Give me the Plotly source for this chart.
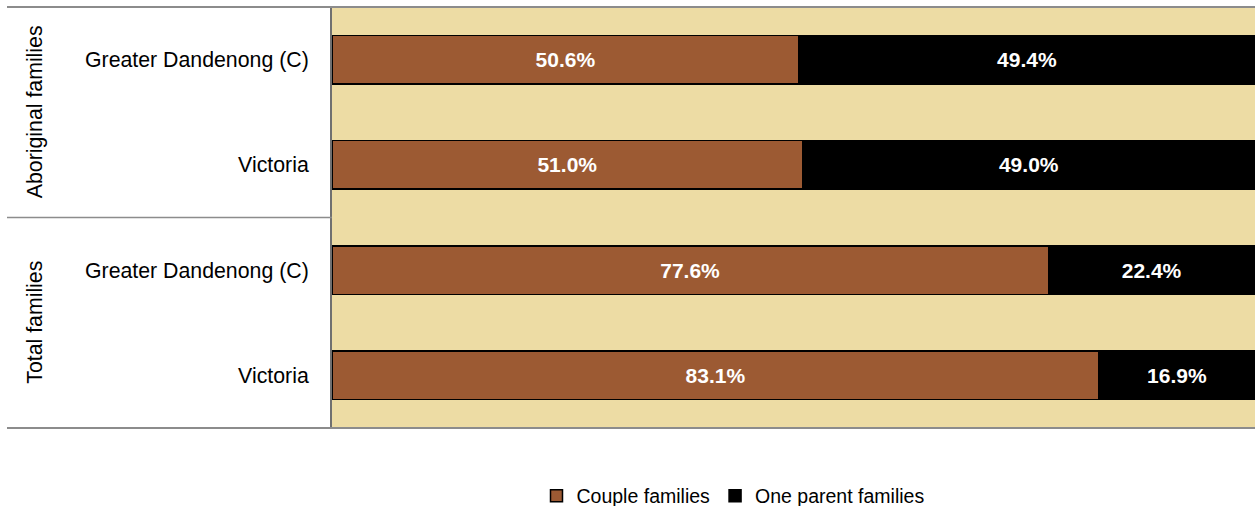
import plotly.graph_objects as go

groups = ["Aboriginal families", "Aboriginal families", "Total families", "Total families"]
areas = ["Greater Dandenong (C)", "Victoria", "Greater Dandenong (C)", "Victoria"]
couple = [50.6, 51.0, 77.6, 83.1]
one_parent = [49.4, 49.0, 22.4, 16.9]
group_names = ["Aboriginal families", "Total families"]

W, H = 1255, 506
L, R, T, B = 332, 0, 7, 78
pw = W - L - R
ph = H - T - B

def px_to_paper_x(px):
    return (px - L) / pw

pos = list(range(len(areas)))
FONT = "Liberation Sans, Arial, sans-serif"

fig = go.Figure()
fig.add_trace(go.Bar(
    y=pos, x=couple, orientation="h", name="Couple families",
    marker=dict(color="#9C5A33", line=dict(color="#000000", width=1.5)),
    text=[f"{v:.1f}%" for v in couple], textposition="inside",
    insidetextanchor="middle",
    textfont=dict(color="white", size=21, family=FONT, weight="bold"),
    hoverinfo="skip",
))
fig.add_trace(go.Bar(
    y=pos, x=one_parent, orientation="h", name="One parent families",
    marker=dict(color="#000000", line=dict(color="#000000", width=1.5)),
    text=[f"{v:.1f}%" for v in one_parent], textposition="inside",
    insidetextanchor="middle",
    textfont=dict(color="white", size=21, family=FONT, weight="bold"),
    hoverinfo="skip",
))

shapes = []
line_col = "#8c8c8c"
shapes.append(dict(type="line", xref="paper", yref="paper",
                   x0=px_to_paper_x(7), x1=1, y0=1, y1=1,
                   line=dict(color=line_col, width=2)))
shapes.append(dict(type="line", xref="paper", yref="paper",
                   x0=px_to_paper_x(7), x1=1, y0=0, y1=0,
                   line=dict(color=line_col, width=2)))
shapes.append(dict(type="line", xref="paper", yref="paper",
                   x0=px_to_paper_x(7), x1=0, y0=0.5, y1=0.5,
                   line=dict(color=line_col, width=1.5)))

annotations = []
for i, g in enumerate(group_names):
    annotations.append(dict(
        text=g, xref="paper", yref="paper",
        x=px_to_paper_x(35), y=0.75 - 0.5 * i,
        textangle=-90, showarrow=False,
        font=dict(size=21.3, family=FONT, color="#000000"),
        xanchor="center", yanchor="middle",
    ))

fig.update_layout(
    width=W, height=H,
    margin=dict(l=L, r=R, t=T, b=B, autoexpand=False),
    barmode="stack", bargap=0.54,
    plot_bgcolor="#EDDCA4", paper_bgcolor="white",
    font=dict(family=FONT, size=21, color="#000000"),
    showlegend=True,
    legend=dict(orientation="h", xref="container", yref="container",
                x=733 / W, y=(H - 496) / H,
                xanchor="center", yanchor="middle",
                font=dict(size=19.5, family=FONT, color="#000000"),
                itemwidth=30, traceorder="normal"),
    shapes=shapes, annotations=annotations,
)
fig.update_xaxes(range=[0, 100], showticklabels=False, showgrid=False,
                 zeroline=False, showline=False, fixedrange=True)
fig.update_yaxes(tickvals=pos, ticktext=areas, autorange="reversed",
                 showgrid=False, zeroline=False, showline=True,
                 linecolor="#707070", linewidth=2, fixedrange=True,
                 ticks="outside", ticklen=17, tickcolor="rgba(0,0,0,0)",
                 tickfont=dict(size=21.3, family=FONT, color="#000000"))

fig.write_html("out.html", config={"displayModeBar": False},
               post_script="document.body.style.margin='0';document.body.style.overflow='hidden';")
